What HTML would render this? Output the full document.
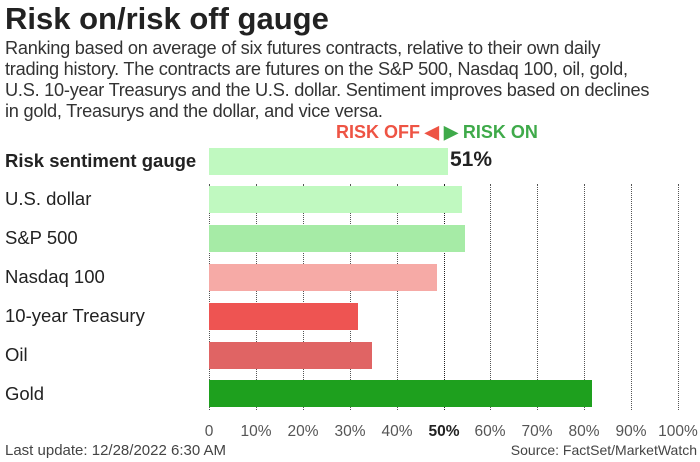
<!DOCTYPE html>
<html><head><style>
body{margin:0;width:700px;height:462px;background:#fff;font-family:"Liberation Sans",sans-serif;overflow:hidden;position:relative;color:#222}
.a{position:absolute;white-space:nowrap}
.bar{position:absolute;left:209px;height:27px}
.lab{position:absolute;left:5px;font-size:18.5px;color:#222}
.grid{position:absolute;top:184px;height:226px;border-left:1.5px dotted #555}
.tick{position:absolute;top:423px;font-size:15.5px;color:#555;transform:translateX(-50%)}
</style></head><body>
<div class="a" style="left:5px;top:1px;font-size:31px;font-weight:bold;color:#222">Risk on/risk off gauge</div>
<div class="a" style="left:5px;top:38px;font-size:18.2px;line-height:21px;color:#333;letter-spacing:-0.25px">Ranking based on average of six futures contracts, relative to their own daily<br>trading history. The contracts are futures on the S&amp;P 500, Nasdaq 100, oil, gold,<br>U.S. 10-year Treasurys and the U.S. dollar. Sentiment improves based on declines<br>in gold, Treasurys and the dollar, and vice versa.</div>
<div class="a" style="left:336px;top:122px;font-size:18px;font-weight:bold;color:#ee5444">RISK OFF ◀</div>
<div class="a" style="left:444px;top:122px;font-size:18px;font-weight:bold;color:#3faa4a">▶ RISK ON</div>
<div class="grid" style="left:209px"></div><div class="grid" style="left:256px"></div><div class="grid" style="left:303px"></div><div class="grid" style="left:350px"></div><div class="grid" style="left:397px"></div><div class="grid" style="left:444px;border-color:#222"></div><div class="grid" style="left:490px"></div><div class="grid" style="left:537px"></div><div class="grid" style="left:584px"></div><div class="grid" style="left:631px"></div><div class="grid" style="left:678px"></div>
<div class="lab" style="top:150px;font-weight:bold">Risk sentiment gauge</div>
<div class="bar" style="top:148px;width:239px;background:#c0f9c0"></div>
<div class="a" style="left:450px;top:148px;font-size:21px;font-weight:bold;color:#222">51%</div>
<div class="lab" style="top:188px">U.S. dollar</div><div class="bar" style="top:186px;width:253px;background:#c0f9c0"></div>
<div class="lab" style="top:227px">S&amp;P 500</div><div class="bar" style="top:225px;width:256px;background:#a6eba6"></div>
<div class="lab" style="top:266px">Nasdaq 100</div><div class="bar" style="top:264px;width:228px;background:#f6aaa6"></div>
<div class="lab" style="top:305px">10-year Treasury</div><div class="bar" style="top:303px;width:149px;background:#ee5452"></div>
<div class="lab" style="top:344px">Oil</div><div class="bar" style="top:342px;width:163px;background:#e06464"></div>
<div class="lab" style="top:383px">Gold</div><div class="bar" style="top:380px;width:383px;background:#1ea01e"></div>
<div class="tick" style="left:209px">0</div><div class="tick" style="left:256px">10%</div><div class="tick" style="left:303px">20%</div><div class="tick" style="left:350px">30%</div><div class="tick" style="left:397px">40%</div><div class="tick" style="left:444px;color:#222;font-weight:bold">50%</div><div class="tick" style="left:490px">60%</div><div class="tick" style="left:537px">70%</div><div class="tick" style="left:584px">80%</div><div class="tick" style="left:631px">90%</div><div class="tick" style="left:678px">100%</div>
<div class="a" style="left:5px;top:442px;font-size:15px;color:#444">Last update: 12/28/2022 6:30 AM</div>
<div class="a" style="right:3px;top:442px;font-size:14px;color:#444">Source: FactSet/MarketWatch</div>
</body></html>
